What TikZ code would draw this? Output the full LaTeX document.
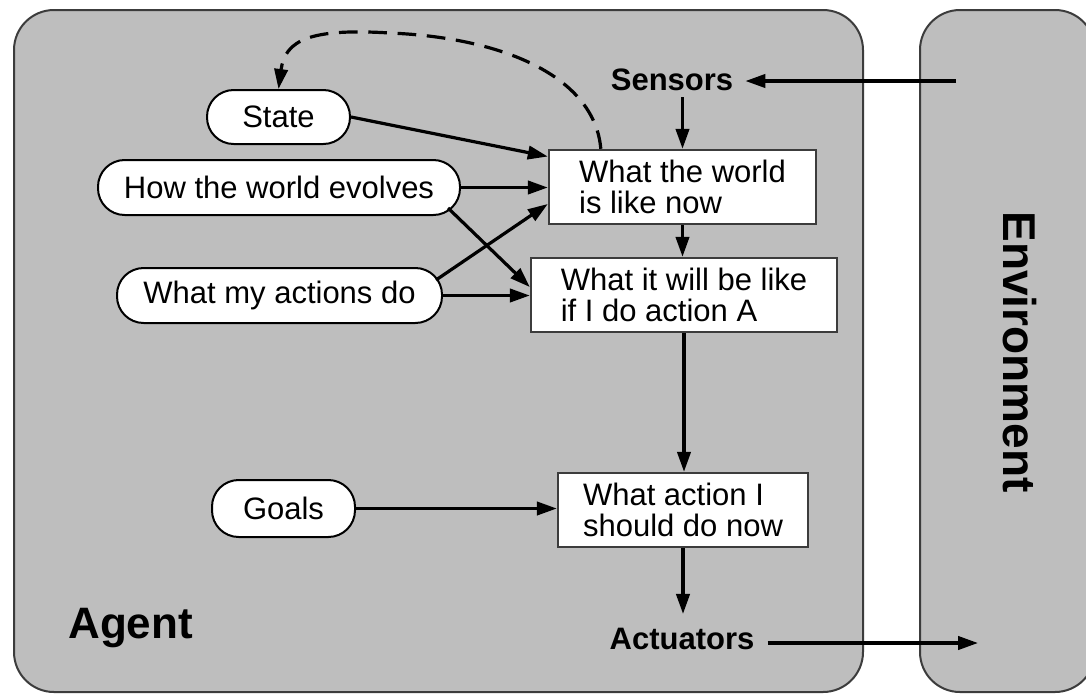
\documentclass[tikz,border=0pt]{standalone}
\usepackage{fontspec}
\setmainfont{Liberation Sans}
\usetikzlibrary{arrows.meta,calc}
\definecolor{panelgray}{RGB}{190,190,190}
\definecolor{edgegray}{RGB}{60,60,60}
\begin{document}
\begin{tikzpicture}[x=0.75pt,y=-0.75pt,
  panel/.style={draw=edgegray, line width=1.5pt, fill=panelgray, rounded corners=30pt},
  oval/.style={draw=black, line width=1.5pt, fill=white, rounded corners=20pt, inner sep=0pt, font=\fontsize{23.25}{23.25}\selectfont},
  box/.style={draw=edgegray, line width=1.8pt, fill=white, inner sep=0pt, align=left, font=\fontsize{23.25}{23.25}\selectfont},
  lbl/.style={inner sep=0pt, font=\bfseries\fontsize{23.25}{23.25}\selectfont},
  arr/.style={line width=2.4pt, -{Triangle[length=15pt,width=10pt]}},
]
\useasboundingbox (0,0) rectangle (1086,694);
\fill[white] (0,0) rectangle (1086,694);
% panels
\draw[panel] (14,10) rectangle (863,692);
\draw[panel] (920,10) rectangle (1095,692);
% labels
\node[font=\bfseries\fontsize{33}{33}\selectfont, anchor=base west, inner sep=0pt] (agent) at (68,638) {Agent};
\node[font=\bfseries\fontsize{34.5}{34.5}\selectfont, rotate=-90, inner sep=0pt] (env) at (1020,352) {Environment};
\node[lbl] (sens) at (672,80) {Sensors};
\node[lbl] (actu) at (682,639) {Actuators};
% ovals
\node[oval, minimum width=107.25pt, minimum height=40.5pt] (state) at (278.5,117) {State};
\node[oval, minimum width=271.5pt, minimum height=41.25pt] (how) at (279,187.5) {How the world evolves};
\node[oval, minimum width=243.75pt, minimum height=41.25pt] (acts) at (279.5,295.5) {What my actions do};
\node[oval, minimum width=107.25pt, minimum height=42.75pt] (goals) at (283.5,508.5) {Goals};
% boxes
\node[box, minimum width=200.25pt, minimum height=55.5pt] (now) at (682.5,187) {What the world\\is like now};
\node[box, minimum width=229.5pt, minimum height=55.5pt] (pred) at (684,295) {What it will be like\\if I do action A};
\node[box, minimum width=187.5pt, minimum height=55.5pt] (act) at (683,510) {What action I\\should do now};
% free ends
\coordinate (envout) at (956,81);
\coordinate (envin) at (978,643);
\coordinate (actutop) at ($(actu.north)+(0,-14)$);
% connectors
\draw[arr] (envout) -- ($(sens.east)+(12,1)$);
\draw[arr] ($(sens.south -| now.north)+(0,6)$) -- (now.north);
\draw[arr] (now.south) -- (now.south |- pred.north);
\draw[arr] (pred.south) -- (pred.south |- act.north);
\draw[arr] (act.south) -- (act.south |- actutop);
\draw[arr] ($(actu.east |- envin)+(13,0)$) -- (envin);
\draw[arr] (state.east) -- ($(now.west)+(0,-30.5)$);
\draw[arr] (how.east) -- (how.east -| now.west);
\draw[arr] ($(acts.east)+(-7,-15.5)$) -- ($(now.west)+(0,17)$);
\draw[arr] ($(how.east)+(-13,20.5)$) -- ($(pred.west)+(0,-8)$);
\draw[arr] (acts.east) -- (acts.east -| pred.west);
\draw[arr] (goals.east) -- (goals.east -| act.west);
\draw[line width=2.4pt, dash pattern=on 14pt off 8pt, -{Triangle[length=15pt,width=10pt]}]
  ($(now.north west)+(53,0)$) .. controls (595,80) and (510,38) .. (390,33)
  .. controls (310,28) and (285,40) .. (state.north);
\end{tikzpicture}
\end{document}
